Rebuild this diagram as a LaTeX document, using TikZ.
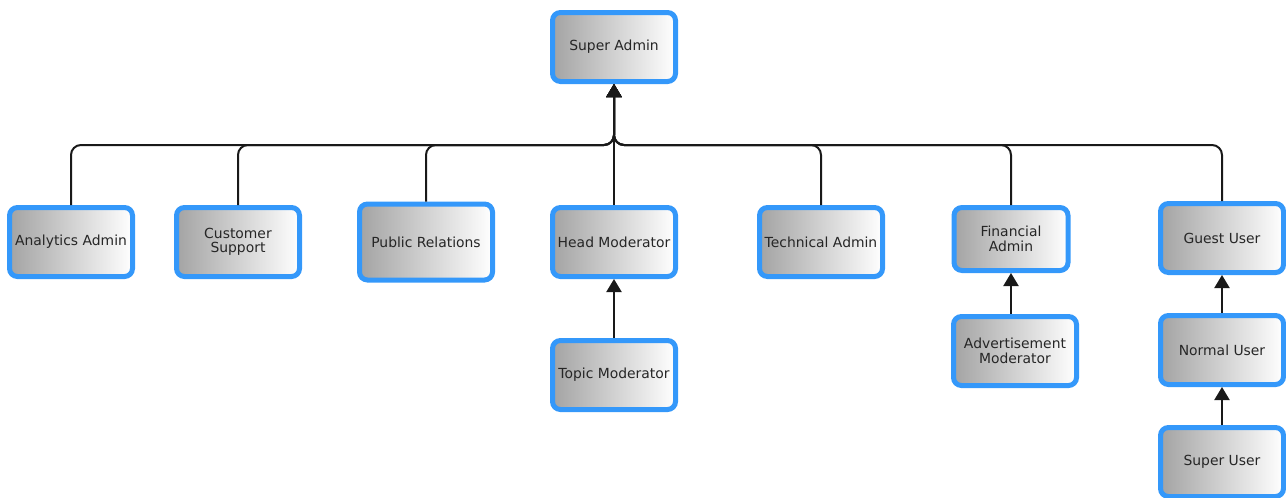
\documentclass[tikz,border=0pt]{standalone}
\usepackage{fontspec}
\setmainfont{DejaVu Sans}
\usepackage{xcolor}
\usetikzlibrary{arrows.meta}
\usetikzlibrary{positioning}

\definecolor{roleblue}{RGB}{52,152,250}

\begin{document}
\begin{tikzpicture}[x=1pt,y=1pt,>={Triangle[width=15pt,length=13pt]},semithick]
  \tikzstyle{role}=[draw=roleblue, line width=5pt, rounded corners=8pt,
                    left color=gray!72, right color=white, text=black!85,
                    minimum width=123pt, minimum height=69pt, inner sep=1pt,
                    align=center, font=\fontsize{13.9}{14.5}\selectfont]
  \tikzstyle{wire}=[draw=black!90, line width=2pt, rounded corners=10pt]
  \useasboundingbox (0,0) rectangle (1286,-498);
  % top
  \node[role]  (super)                                       at (614,-47) {Super Admin};
  % middle row
  \node[role]  (head)      [below of=super, node distance=195pt]          {Head Moderator};
  \node[role, minimum width=133pt, minimum height=76pt]
               (public)    [left of=head, node distance=188pt]            {Public Relations};
  \node[role]  (customer)  [left of=public, node distance=188pt]          {Customer\\Support};
  \node[role]  (analytics) [left of=customer, node distance=167pt]        {Analytics Admin};
  \node[role]  (technical) [right of=head, node distance=207pt]           {Technical Admin};
  \node[role, minimum width=114pt, minimum height=63pt]
               (financial) [right of=technical, node distance=190pt, yshift=3pt] {Financial\\Admin};
  \node[role]  (guest)     [right of=financial, node distance=211pt, yshift=1pt] {Guest User};
  % lower rows
  \node[role]  (topic)     [below of=head, node distance=133pt]           {Topic Moderator};
  \node[role]  (advert)    [below of=financial, node distance=112pt, xshift=4pt] {Advertisement\\Moderator};
  \node[role]  (normal)    [below of=guest, node distance=112pt]          {Normal User};
  \node[role]  (superuser) [below of=normal, node distance=112pt]         {Super User};

  \coordinate (bus) at (614,-145);
  \draw[wire,->] (analytics.north) |- (bus) -- (super.south);
  \draw[wire,->] (customer.north)  |- (bus) -- (super.south);
  \draw[wire,->] (public.north)    |- (bus) -- (super.south);
  \draw[wire,->] (technical.north) |- (bus) -- (super.south);
  \draw[wire,->] (financial.north) |- (bus) -- (super.south);
  \draw[wire,->] (guest.north)     |- (bus) -- (super.south);
  \draw[wire,->] (head.north) -- (super.south);
  \draw[wire,->] (topic) -- (head);
  \draw[wire,->] (advert.north -| financial) -- (financial);
  \draw[wire,->] (normal) -- (guest);
  \draw[wire,->] (superuser) -- (normal);
\end{tikzpicture}
\end{document}
